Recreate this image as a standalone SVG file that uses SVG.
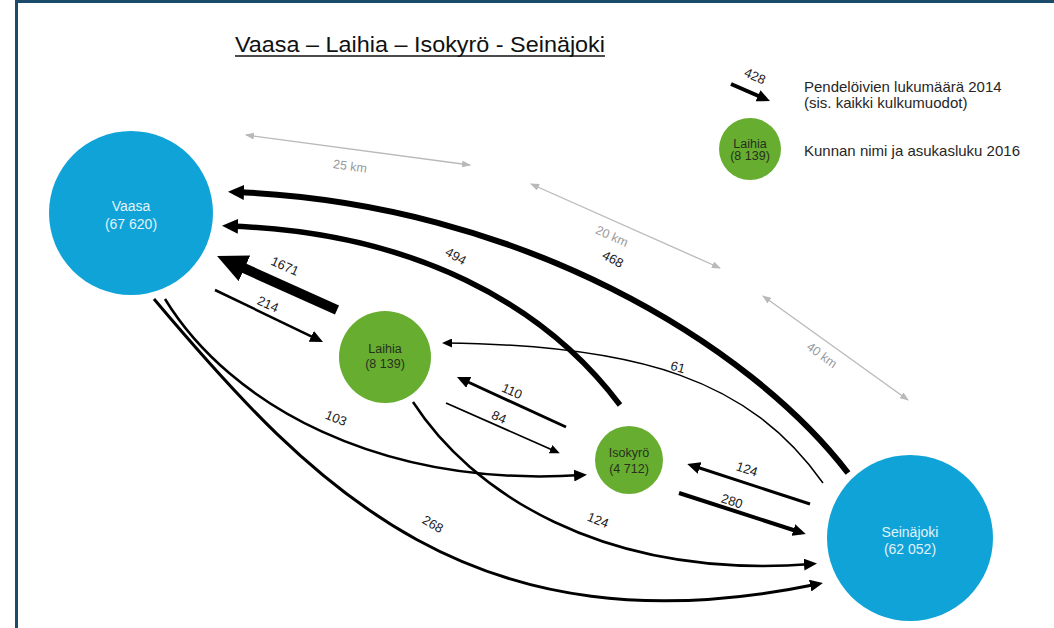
<svg xmlns="http://www.w3.org/2000/svg" width="1054" height="628" viewBox="0 0 1054 628">
<style>
text{font-family:"Liberation Sans",Arial,sans-serif}
.blue{fill:#0fa3d7}
.green{fill:#67ad2f}
.bt{fill:#e2f2fb;font-size:14px;text-anchor:middle}
.gt{fill:#263020;font-size:12.5px;text-anchor:middle}
.fl{fill:none;stroke:#000}
.dist{fill:none;stroke:#b9b9b9;stroke-width:1.3;marker-start:url(#dh);marker-end:url(#dh)}
.lab{font-size:13px;fill:#1a1a1a;text-anchor:middle}
.dl{font-size:12.5px;fill:#9a9a9a;text-anchor:middle}
.leg{font-size:15px;fill:#262626}
</style>
<defs>
<marker id="ah-xl" viewBox="0 0 30 28" markerWidth="30" markerHeight="28" refX="18" refY="14" orient="auto" markerUnits="userSpaceOnUse"><path d="M0,0L30,14L0,28z" fill="#000"/></marker>
<marker id="ah-l" viewBox="0 0 16 15" markerWidth="16" markerHeight="15" refX="10" refY="7.5" orient="auto" markerUnits="userSpaceOnUse"><path d="M0,0L16,7.5L0,15z" fill="#000"/></marker>
<marker id="ah-m" viewBox="0 0 13 12" markerWidth="13" markerHeight="12" refX="8" refY="6" orient="auto" markerUnits="userSpaceOnUse"><path d="M0,0L13,6L0,12z" fill="#000"/></marker>
<marker id="ah-s" viewBox="0 0 10 9" markerWidth="10" markerHeight="9" refX="7" refY="4.5" orient="auto" markerUnits="userSpaceOnUse"><path d="M0,0L10,4.5L0,9z" fill="#000"/></marker>
<marker id="dh" viewBox="0 0 9 7" markerWidth="9" markerHeight="7" refX="8" refY="3.5" orient="auto-start-reverse" markerUnits="userSpaceOnUse"><path d="M0,0L9,3.5L0,7z" fill="#b9b9b9"/></marker>
</defs>
<rect x="0" y="0" width="1054" height="628" fill="#fff"/>
<g id="frame">
<rect x="15" y="0" width="1039" height="3" fill="#1a4b6b"/>
<rect x="15" y="0" width="3" height="628" fill="#1a4b6b"/>
</g>
<g id="title">
<text x="235" y="52" font-size="22" textLength="370" lengthAdjust="spacingAndGlyphs" fill="#111">Vaasa – Laihia – Isokyrö - Seinäjoki</text>
<line x1="235" y1="56" x2="605" y2="56" stroke="#111" stroke-width="1.5"/>
</g>
<g id="legend">
<path class="fl" d="M731,84L765.4,99" stroke-width="4" marker-end="url(#ah-m)"/>
<text class="lab" transform="translate(755,76) rotate(24)" dy="0.35em">428</text>
<text class="leg" x="804" y="92">Pendelöivien lukumäärä 2014</text>
<text class="leg" x="804" y="108">(sis. kaikki kulkumuodot)</text>
<circle class="green" cx="750" cy="149" r="31"/>
<text class="gt" x="750" y="148" font-size="11">Laihia</text>
<text class="gt" x="750" y="160" font-size="11">(8 139)</text>
<text class="leg" x="804" y="156">Kunnan nimi ja asukasluku 2016</text>
</g>
<g id="distances">
<path class="dist" d="M246,135L470,165"/>
<text class="dl" transform="translate(350,166) rotate(8)" dy="0.35em">25 km</text>
<path class="dist" d="M531,184L720,268"/>
<text class="dl" transform="translate(612,236) rotate(24)" dy="0.35em">20 km</text>
<path class="dist" d="M763,296L908,400"/>
<text class="dl" transform="translate(822,355) rotate(36)" dy="0.35em">40 km</text>
</g>
<g id="connectors">
<path class="fl" d="M848,473C750,345 520,203 234,192" stroke-width="6" marker-end="url(#ah-l)"/>
<path class="fl" d="M620,405C545,305 415,232 228,226" stroke-width="5.5" marker-end="url(#ah-l)"/>
<path class="fl" d="M337,310L228,261" stroke-width="10" marker-end="url(#ah-xl)"/>
<path class="fl" d="M215,290L318.5,339.8" stroke-width="2.5" marker-end="url(#ah-m)"/>
<path class="fl" d="M823,483C750,380 640,345 445,343" stroke-width="1.5" marker-end="url(#ah-s)"/>
<path class="fl" d="M566,427L461.5,379" stroke-width="3" marker-end="url(#ah-m)"/>
<path class="fl" d="M446,403L557,452" stroke-width="1.8" marker-end="url(#ah-s)"/>
<path class="fl" d="M810,504L692,465.5" stroke-width="3" marker-end="url(#ah-m)"/>
<path class="fl" d="M679,493L801,532.5" stroke-width="4" marker-end="url(#ah-m)"/>
<path class="fl" d="M165,299C230,405 380,488 582,475" stroke-width="2.5" marker-end="url(#ah-m)"/>
<path class="fl" d="M413,402C470,490 600,580 812,564" stroke-width="2.5" marker-end="url(#ah-m)"/>
<path class="fl" d="M154,299C315,490 473,655 818,584" stroke-width="3" marker-end="url(#ah-m)"/>
<text class="lab" transform="translate(613,259) rotate(28)" dy="0.35em">468</text>
<text class="lab" transform="translate(456,256) rotate(30)" dy="0.35em">494</text>
<text class="lab" transform="translate(285,266) rotate(24)" dy="0.35em">1671</text>
<text class="lab" transform="translate(268,304) rotate(24)" dy="0.35em">214</text>
<text class="lab" transform="translate(678,367) rotate(15)" dy="0.35em">61</text>
<text class="lab" transform="translate(512,391) rotate(24)" dy="0.35em">110</text>
<text class="lab" transform="translate(499,417) rotate(24)" dy="0.35em">84</text>
<text class="lab" transform="translate(747,469) rotate(18)" dy="0.35em">124</text>
<text class="lab" transform="translate(732,501) rotate(18)" dy="0.35em">280</text>
<text class="lab" transform="translate(336,418) rotate(22)" dy="0.35em">103</text>
<text class="lab" transform="translate(598,520) rotate(22)" dy="0.35em">124</text>
<text class="lab" transform="translate(433,524) rotate(30)" dy="0.35em">268</text>
</g>
<g id="vaasa">
<circle class="blue" cx="131" cy="213" r="82"/>
<text class="bt" x="131" y="211">Vaasa</text>
<text class="bt" x="131" y="229">(67 620)</text>
</g>
<g id="laihia">
<circle class="green" cx="385" cy="357" r="46"/>
<text class="gt" x="385" y="353">Laihia</text>
<text class="gt" x="385" y="368">(8 139)</text>
</g>
<g id="isokyro">
<circle class="green" cx="629" cy="460" r="34"/>
<text class="gt" x="629" y="457" font-size="13">Isokyrö</text>
<text class="gt" x="629" y="473" font-size="13">(4 712)</text>
</g>
<g id="seinajoki">
<circle class="blue" cx="910" cy="538" r="83"/>
<text class="bt" x="910" y="537">Seinäjoki</text>
<text class="bt" x="910" y="554">(62 052)</text>
</g>
</svg>
